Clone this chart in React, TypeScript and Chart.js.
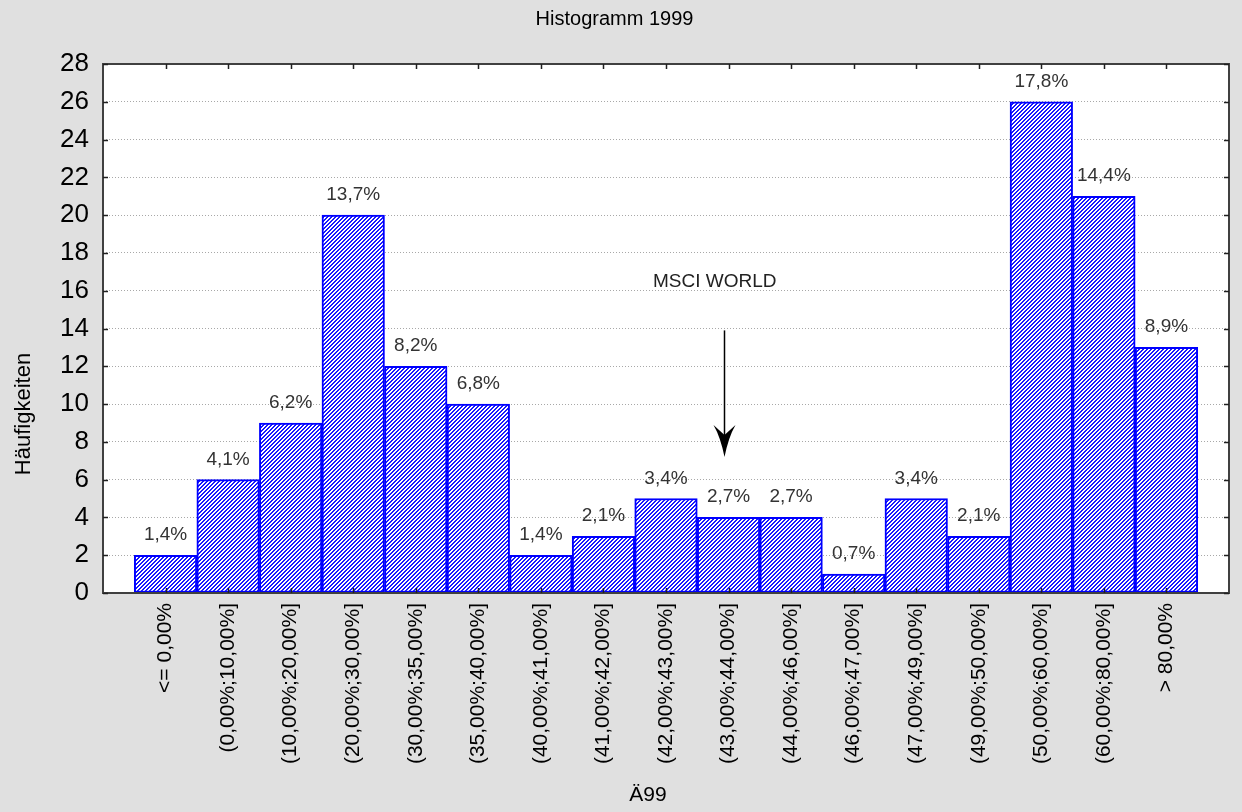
import React, { useEffect, useRef } from 'react';
import { Chart, registerables } from 'chart.js';

Chart.register(...registerables);

const TITLE = 'Histogramm 1999';
const X_TITLE = 'Ä99';
const Y_TITLE = 'Häufigkeiten';

const categories = [
  '<= 0,00%',
  '(0,00%;10,00%]',
  '(10,00%;20,00%]',
  '(20,00%;30,00%]',
  '(30,00%;35,00%]',
  '(35,00%;40,00%]',
  '(40,00%;41,00%]',
  '(41,00%;42,00%]',
  '(42,00%;43,00%]',
  '(43,00%;44,00%]',
  '(44,00%;46,00%]',
  '(46,00%;47,00%]',
  '(47,00%;49,00%]',
  '(49,00%;50,00%]',
  '(50,00%;60,00%]',
  '(60,00%;80,00%]',
  '> 80,00%',
];

const counts = [2, 6, 9, 20, 12, 10, 2, 3, 5, 4, 4, 1, 5, 3, 26, 21, 13];

const percentLabels = [
  '1,4%', '4,1%', '6,2%', '13,7%', '8,2%', '6,8%', '1,4%', '2,1%', '3,4%',
  '2,7%', '2,7%', '0,7%', '3,4%', '2,1%', '17,8%', '14,4%', '8,9%',
];

const Y_MIN = 0;
const Y_MAX = 28;
const Y_STEP = 2;

const ANNOTATION_TEXT = 'MSCI WORLD';
const ANNOTATION_TEXT_X = 8.78;
const ANNOTATION_TEXT_Y = 16.45;
const ARROW_X = 8.93;
const ARROW_TOP_Y = 13.9;
const ARROW_TIP_Y = 7.2;

const FONT = '"Liberation Sans", Arial, sans-serif';

function makeHatch(): CanvasPattern | string {
  const c = document.createElement('canvas');
  c.width = 4;
  c.height = 4;
  const g = c.getContext('2d');
  if (!g) return '#8080ff';
  g.fillStyle = '#ffffff';
  g.fillRect(0, 0, 4, 4);
  g.fillStyle = '#1818ff';
  for (let i = 0; i < 4; i++) {
    g.fillRect(i, 3 - i, 1, 1);
    g.fillRect(i, (4 - i) % 4, 1, 1);
  }
  return g.createPattern(c, 'repeat') || '#8080ff';
}

const decorPlugin = {
  id: 'decor',
  beforeDraw(chart: any) {
    const { ctx, chartArea: a } = chart;
    ctx.save();
    ctx.fillStyle = '#ffffff';
    ctx.fillRect(a.left, a.top, a.right - a.left, a.bottom - a.top);
    ctx.restore();
  },
  afterDatasetsDraw(chart: any) {
    const { ctx, chartArea: a } = chart;
    const xs = chart.scales.x;
    const ys = chart.scales.y;
    ctx.save();

    // frame
    ctx.strokeStyle = '#404040';
    ctx.lineWidth = 2;
    ctx.strokeRect(a.left, a.top, a.right - a.left, a.bottom - a.top);

    // inward tick marks
    ctx.lineWidth = 1.5;
    ctx.strokeStyle = '#202020';
    ctx.beginPath();
    categories.forEach((_, i) => {
      const px = Math.round(xs.getPixelForValue(i)) + 0.5;
      ctx.moveTo(px, a.top);
      ctx.lineTo(px, a.top + 5);
      ctx.moveTo(px, a.bottom);
      ctx.lineTo(px, a.bottom - 5);
    });
    for (let v = Y_MIN; v <= Y_MAX; v += Y_STEP) {
      const py = Math.round(ys.getPixelForValue(v)) + 0.5;
      ctx.moveTo(a.left, py);
      ctx.lineTo(a.left + 5, py);
      ctx.moveTo(a.right, py);
      ctx.lineTo(a.right - 5, py);
    }
    ctx.stroke();

    // percent labels
    ctx.font = `19px ${FONT}`;
    ctx.fillStyle = '#333333';
    ctx.textAlign = 'center';
    ctx.textBaseline = 'alphabetic';
    counts.forEach((c, i) => {
      ctx.fillText(percentLabels[i], xs.getPixelForValue(i), ys.getPixelForValue(c) - 15);
    });

    // annotation
    ctx.font = `19px ${FONT}`;
    ctx.fillStyle = '#222222';
    ctx.textBaseline = 'middle';
    ctx.fillText(ANNOTATION_TEXT, xs.getPixelForValue(ANNOTATION_TEXT_X), ys.getPixelForValue(ANNOTATION_TEXT_Y));
    const ax = Math.round(xs.getPixelForValue(ARROW_X)) + 0.5;
    const top = ys.getPixelForValue(ARROW_TOP_Y);
    const tip = ys.getPixelForValue(ARROW_TIP_Y);
    ctx.strokeStyle = '#000000';
    ctx.lineWidth = 1.5;
    ctx.beginPath();
    ctx.moveTo(ax, top);
    ctx.lineTo(ax, tip - 20);
    ctx.stroke();
    ctx.fillStyle = '#000000';
    ctx.beginPath();
    ctx.moveTo(ax, tip);
    ctx.quadraticCurveTo(ax - 4, tip - 20, ax - 11, tip - 32);
    ctx.lineTo(ax, tip - 22);
    ctx.lineTo(ax + 11, tip - 32);
    ctx.quadraticCurveTo(ax + 4, tip - 20, ax, tip);
    ctx.closePath();
    ctx.fill();

    // axis titles
    ctx.fillStyle = '#000000';
    ctx.font = `21px ${FONT}`;
    ctx.textAlign = 'center';
    ctx.textBaseline = 'middle';
    ctx.fillText(X_TITLE, 648, 795);
    ctx.font = `22px ${FONT}`;
    ctx.translate(24, 414);
    ctx.rotate(-Math.PI / 2);
    ctx.fillText(Y_TITLE, 0, 0);

    ctx.restore();
  },
};

export default function App() {
  const ref = useRef<HTMLCanvasElement>(null);

  useEffect(() => {
    if (!ref.current) return;
    const hatch = makeHatch();
    const chart = new Chart(ref.current, {
      type: 'bar',
      data: {
        datasets: [
          {
            data: counts.map((v, i) => ({ x: i, y: v })),
            backgroundColor: hatch as any,
            borderColor: '#0000ff',
            borderWidth: 2,
            borderSkipped: false,
            barPercentage: 1,
            categoryPercentage: 1,
          },
        ],
      },
      options: {
        animation: false,
        responsive: false,
        devicePixelRatio: 1,
        layout: { padding: { left: 0, top: 0, bottom: 0, right: 13 } },
        plugins: {
          legend: { display: false },
          tooltip: { enabled: false },
          title: {
            display: true,
            text: TITLE,
            color: '#000000',
            font: { family: FONT, size: 20, weight: 'normal' },
            padding: { top: 7, bottom: 33 },
          },
        },
        scales: {
          x: {
            type: 'linear',
            min: -1,
            max: categories.length,
            offset: false,
            grid: { display: false, drawTicks: false },
            border: { display: false },
            afterFit: (s: any) => {
              s.height = 219;
              s.paddingLeft = 0;
              s.paddingRight = 0;
            },
            ticks: {
              stepSize: 1,
              autoSkip: false,
              minRotation: 90,
              maxRotation: 90,
              padding: 10,
              color: '#000000',
              font: { family: FONT, size: 21 },
              callback: (v: any) => categories[v as number] ?? '',
            },
          },
          y: {
            min: Y_MIN,
            max: Y_MAX,
            afterFit: (s: any) => {
              s.width = 103;
            },
            grid: { color: '#a8a8a8', lineWidth: 1, drawTicks: false },
            border: { display: false, dash: [1, 2] },
            ticks: {
              stepSize: Y_STEP,
              padding: 14,
              color: '#000000',
              font: { family: FONT, size: 26 },
            },
          },
        },
      },
      plugins: [decorPlugin],
    });
    return () => chart.destroy();
  }, []);

  return (
    <div
      style={{
        position: 'fixed',
        left: 0,
        top: 0,
        width: 1242,
        height: 812,
        background: '#e0e0e0',
      }}
    >
      <canvas ref={ref} width={1242} height={812} style={{ display: 'block' }} />
    </div>
  );
}
